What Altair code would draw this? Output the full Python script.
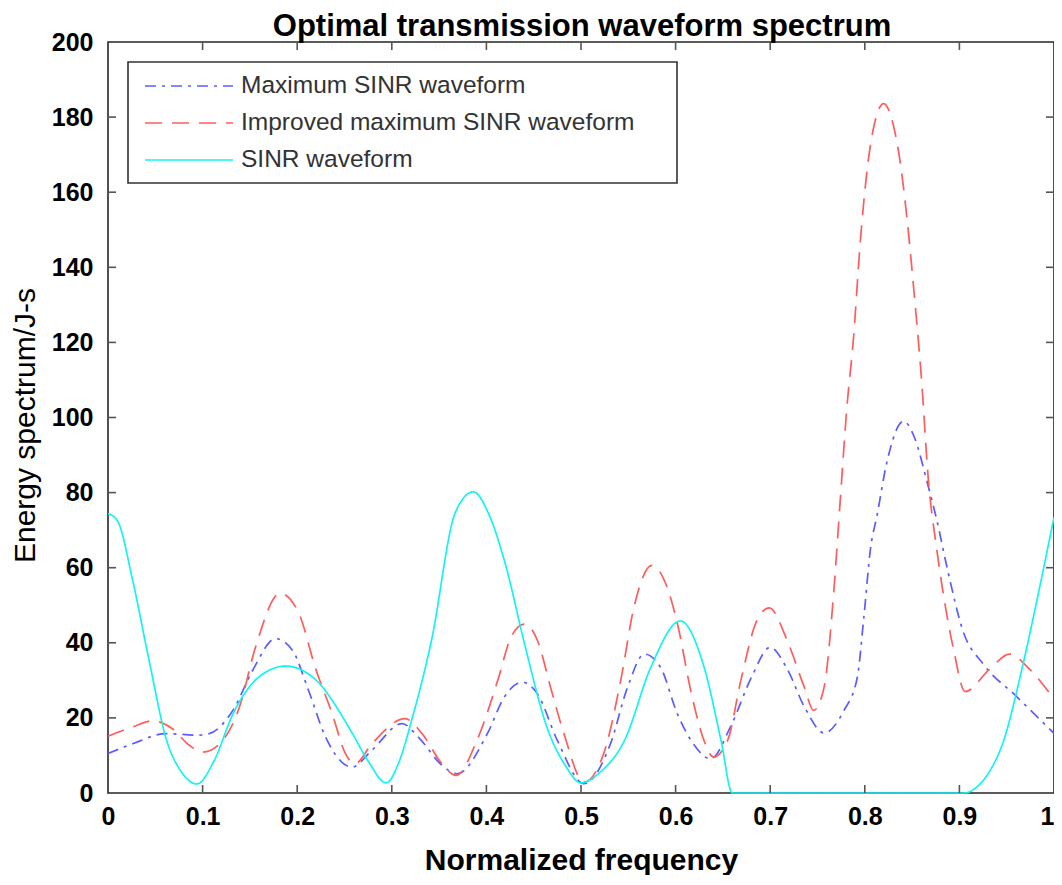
import altair as alt
import pandas as pd

# ---------------- data ----------------
series_names = ["Maximum SINR waveform", "Improved maximum SINR waveform", "SINR waveform"]

blue_f = [0, 0.026, 0.061, 0.096, 0.107, 0.132, 0.153, 0.177, 0.195, 0.212, 0.23, 0.258,
          0.279, 0.311, 0.328, 0.353, 0.369, 0.401, 0.419, 0.438, 0.454, 0.475, 0.503,
          0.531, 0.549, 0.567, 0.584, 0.602, 0.619, 0.637, 0.658, 0.68, 0.7, 0.718, 0.736,
          0.757, 0.778, 0.792, 0.799, 0.806, 0.813, 0.823, 0.841, 0.852, 0.866, 0.876,
          0.887, 0.904, 0.925, 0.96, 1.0]
blue_e = [10.5, 13.1, 15.8, 15.4, 15.8, 22, 32.7, 41.1, 38, 27.3, 14.9, 6.9,
          11.4, 18.5, 14.9, 7.4, 5.1, 15.8, 25.6, 29.5, 26.4, 14, 2.5,
          13, 28, 37, 33.5, 21, 13, 9.1, 17.6, 30.7, 38.8, 33, 23,
          16, 22, 30.7, 46.8, 65, 74, 87.7, 99, 95, 82.7, 72.8,
          60, 43, 34.4, 25.8, 15.9]

red_f = [0, 0.026, 0.047, 0.068, 0.086, 0.1, 0.118, 0.139, 0.156, 0.182, 0.202, 0.219,
         0.237, 0.251, 0.261, 0.279, 0.314, 0.332, 0.353, 0.368, 0.39, 0.412, 0.426,
         0.44, 0.454, 0.468, 0.482, 0.503, 0.524, 0.542, 0.556, 0.575, 0.591, 0.602,
         0.616, 0.63, 0.64, 0.655, 0.669, 0.686, 0.699, 0.718, 0.736, 0.746, 0.757,
         0.767, 0.774, 0.781, 0.788, 0.795, 0.802, 0.81, 0.82, 0.83, 0.838, 0.845,
         0.852, 0.86, 0.867, 0.876, 0.883, 0.894, 0.906, 0.932, 0.953, 0.974, 1.0]
red_e = [15.1, 17.6, 19.2, 17.1, 12.7, 10.9, 13.1, 22.9, 38.9, 53.2, 47.7, 33.5,
         21.1, 10.5, 7.8, 13.1, 19.8, 15.8, 7.8, 4.7, 14, 30, 41.5,
         45, 40.6, 28, 15.8, 2.9, 10.5, 30, 49.5, 60.6, 54.8, 45,
         27.3, 14, 9.6, 14, 30, 46, 49.3, 40.6, 28.2, 22, 28.2,
         53, 77.8, 102.5, 121, 146, 165, 178, 183.6, 178, 167, 152,
         133.5, 110, 84, 65, 53, 38, 27, 33, 37, 33, 25]

cyan_f = [0, 0.01, 0.026, 0.044, 0.062, 0.078, 0.094, 0.112, 0.132, 0.16, 0.188, 0.223,
          0.24, 0.258, 0.275, 0.294, 0.308, 0.321, 0.342, 0.367, 0.386, 0.403, 0.42,
          0.441, 0.465, 0.483, 0.5, 0.52, 0.546, 0.574, 0.605, 0.63, 0.648, 0.66, 0.78,
          0.905, 0.918, 0.93, 0.946, 0.967, 0.985, 1.0]
cyan_e = [74.4, 72.5, 56.7, 34.6, 14, 5.5, 2.4, 8.5, 21, 31, 33.8, 29.3,
          23.5, 16, 8.5, 2.7, 8.5, 19.4, 40.7, 74.6, 80.2, 74, 61,
          39, 16.8, 7.5, 2.7, 5.5, 14, 33.6, 45.8, 33.6, 14, 0, 0,
          0, 1.5, 5, 13.4, 34, 55, 73.4]

x_tick_values = [0, 0.1, 0.2, 0.3, 0.4, 0.5, 0.6, 0.7, 0.8, 0.9, 1]
y_tick_values = [0, 20, 40, 60, 80, 100, 120, 140, 160, 180, 200]

TITLE = "Optimal transmission waveform spectrum"
X_TITLE = "Normalized frequency"
Y_TITLE = "Energy spectrum/J-s"

# ---------------- build table ----------------
rows = []
for name, fs, es in zip(series_names, [blue_f, red_f, cyan_f], [blue_e, red_e, cyan_e]):
    for f, e in zip(fs, es):
        rows.append({"f": f, "e": e, "s": name})
df = pd.DataFrame(rows)

W, H = 946, 751
FONT = "Liberation Sans"
colors = ["#5c5cff", "#ff5c5c", "#14f2f2"]
dashes = [[11, 6, 3, 6], [17, 10], [1, 0]]

xs = alt.Scale(domain=[0, 1], nice=False, zero=False)
ys = alt.Scale(domain=[0, 200], nice=False)

x_axis = alt.Axis(values=x_tick_values, format="~g", ticks=False,
                  domain=False, grid=False, labelFlush=False, labelOverlap=False,
                  labelAlign={"condition": {"test": "datum.value >= 1", "value": "right"},
                              "value": "center"},
                  labelFont=FONT, labelFontSize=25, labelFontWeight="bold",
                  labelColor="#000", labelPadding=11,
                  titleFont=FONT, titleFontSize=30, titleFontWeight="bold",
                  titleColor="#000", titleBaseline="alphabetic",
                  titleX=W / 2, titleY=76, titleAlign="center")
y_axis = alt.Axis(values=y_tick_values, format="d", ticks=False,
                  domain=False, grid=False, labelFlush=False, labelOverlap=False,
                  labelFont=FONT, labelFontSize=25, labelFontWeight="bold",
                  labelColor="#000", labelPadding=15, labelBaseline="middle",
                  titleFont=FONT, titleFontSize=30, titleFontWeight="normal",
                  titleColor="#000", titleBaseline="alphabetic", titleAngle=270,
                  titleX=-74, titleY=383, titleAlign="center")

lines = alt.Chart(df).mark_line(interpolate="monotone", strokeWidth=1.7).encode(
    x=alt.X("f:Q", scale=xs, title=X_TITLE, axis=x_axis),
    y=alt.Y("e:Q", scale=ys, title=Y_TITLE, axis=y_axis),
    color=alt.Color("s:N", scale=alt.Scale(domain=series_names, range=colors), legend=None),
    strokeDash=alt.StrokeDash("s:N", scale=alt.Scale(domain=series_names, range=dashes),
                              legend=None),
    order=alt.Order("f:Q"),
)

xt = pd.DataFrame({"t": x_tick_values[1:-1]})
yt = pd.DataFrame({"t": y_tick_values[1:-1]})
tick_style = dict(color="#555", strokeWidth=1.6)

xt_bottom = alt.Chart(xt).mark_rule(**tick_style).encode(
    x=alt.X("t:Q", scale=xs, title=X_TITLE, axis=x_axis), y=alt.value(H), y2=alt.value(H - 8))
xt_top = alt.Chart(xt).mark_rule(**tick_style).encode(
    x=alt.X("t:Q", scale=xs, title=X_TITLE, axis=x_axis), y=alt.value(0), y2=alt.value(8))
yt_left = alt.Chart(yt).mark_rule(**tick_style).encode(
    y=alt.Y("t:Q", scale=ys, title=Y_TITLE, axis=y_axis), x=alt.value(0), x2=alt.value(8))
yt_right = alt.Chart(yt).mark_rule(**tick_style).encode(
    y=alt.Y("t:Q", scale=ys, title=Y_TITLE, axis=y_axis), x=alt.value(W), x2=alt.value(W - 8))

# ---------------- title and legend ----------------
one = pd.DataFrame({"d": [0]})
title_layer = alt.Chart(one).mark_text(align="center", baseline="alphabetic", font=FONT,
                                       fontSize=31, fontWeight="bold", color="#000").encode(
    x=alt.value(474), y=alt.value(-6), text=alt.value(TITLE))

legend_layers = [
    alt.Chart(one).mark_rect(fill="white", stroke="#333", strokeWidth=1.6).encode(
        x=alt.value(20), x2=alt.value(569), y=alt.value(20), y2=alt.value(141))
]
row_y = [44, 81, 118]
for name, c, d, yy in zip(series_names, colors, dashes, row_y):
    legend_layers.append(
        alt.Chart(one).mark_rule(color=c, strokeDash=d, strokeWidth=1.7).encode(
            x=alt.value(37), x2=alt.value(125), y=alt.value(yy)))
    legend_layers.append(
        alt.Chart(one).mark_text(align="left", baseline="middle", font=FONT,
                                 fontSize=24.5, color="#333").encode(
            x=alt.value(133), y=alt.value(yy), text=alt.value(name)))

chart = alt.layer(lines, xt_bottom, xt_top, yt_left, yt_right, title_layer,
                  *legend_layers).properties(
    width=W, height=H,
    autosize=alt.AutoSizeParams(type="none"),
    padding={"left": 100, "top": 34, "right": 0, "bottom": 82},
).configure_view(stroke="#262626", strokeWidth=1.6)

chart.save("out.html", embed_options={"renderer": "svg", "actions": False})
